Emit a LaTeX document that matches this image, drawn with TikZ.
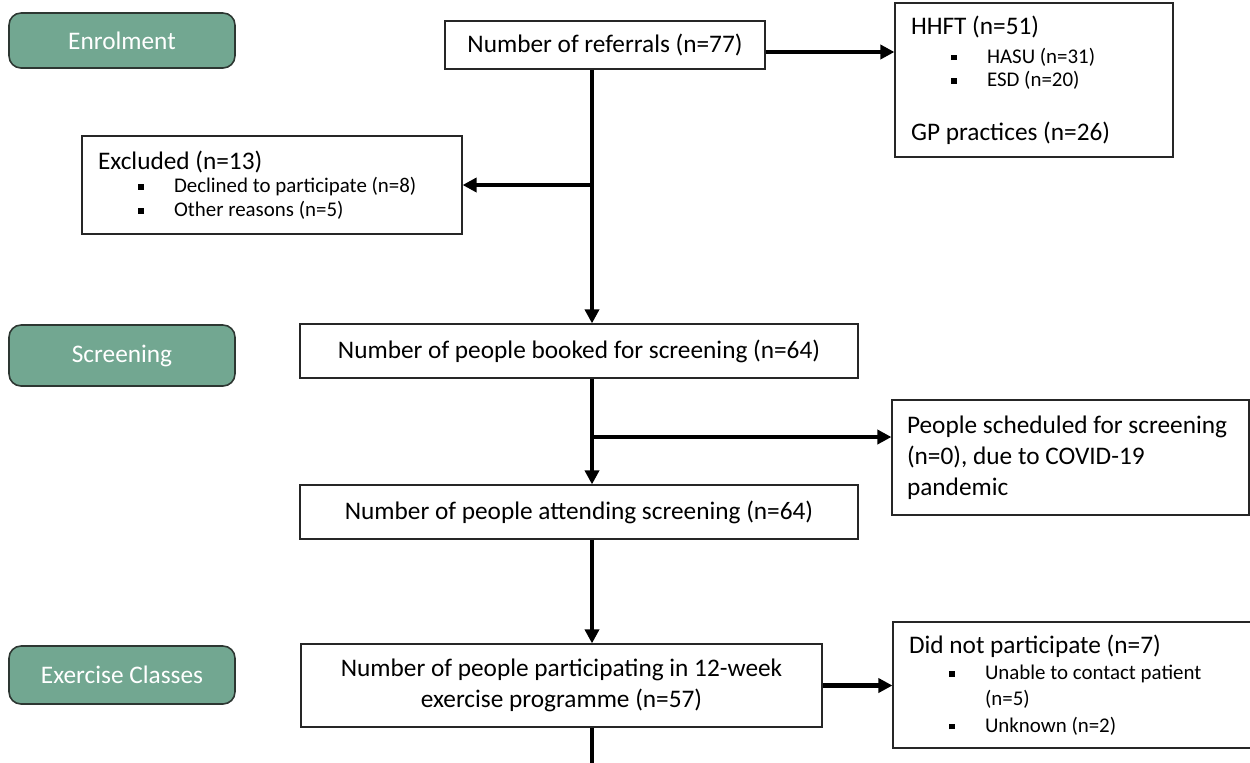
\documentclass[tikz,border=0pt]{standalone}
\usepackage{fontspec}
\setmainfont{Carlito}
\usetikzlibrary{arrows.meta,positioning,calc}
\definecolor{stagegreen}{RGB}{114,167,145}
\definecolor{stageedge}{RGB}{45,55,50}
\newcommand{\bigtxt}{\fontsize{14.4}{17.5}\selectfont}
\newcommand{\smalltxt}{\fontsize{11.9}{13.5}\selectfont}
\newcommand{\sqitem}[1]{\hspace*{0.8cm}\makebox[0.72cm][l]{\rule[0.3ex]{0.55ex}{0.55ex}}#1}

\begin{document}
\begin{tikzpicture}[x=0.02cm, y=-0.02cm,
  stage/.style={draw=stageedge, line width=0.9pt, fill=stagegreen, rounded corners=0.24cm,
    text=white, font=\bigtxt, minimum width=4.52cm},
  mainbox/.style={draw=black!85, line width=0.7pt, font=\bigtxt, align=center},
  sidebox/.style={draw=black!85, line width=0.7pt, font=\smalltxt, align=flush left, inner xsep=0.32cm,
    execute at begin node={\spaceskip=0pt\xspaceskip=0pt}},
  flow/.style={line width=2.3pt, -{Triangle[length=8pt,width=8pt]}},
  spineline/.style={line width=2.3pt}]
  \useasboundingbox (0,0) rectangle (1250,762);
  % stage labels down the left margin
  \node[stage, minimum height=1.10cm] (enrol)  at (122,40.5)  {Enrolment};
  \node[stage, minimum height=1.22cm] (screen) at (122,355.5) {Screening};
  \node[stage, minimum height=1.16cm] (exer)   at (122,675)   {Exercise Classes};
  % main column
  \node[mainbox, minimum width=6.40cm, minimum height=0.96cm] (refer) at (605,45) {Number of referrals (n=77)};
  \node[mainbox, minimum width=11.16cm, minimum height=1.08cm] (booked) at (579,351) {Number of people booked for screening (n=64)};
  \node[mainbox, minimum width=11.16cm, minimum height=1.08cm] (attend) at (579,512) {Number of people attending screening (n=64)};
  \node[mainbox, minimum width=10.42cm, minimum height=1.66cm] (partic) at (561.5,685.5)
    {Number of people participating in 12-week\\exercise programme (n=57)};
  % side boxes
  \node[sidebox, text width=4.92cm, minimum height=3.08cm] (hhft) at (1034,80)
    {{\bigtxt HHFT (n=51)}\\[3pt]
     \sqitem{HASU (n=31)}\\
     \sqitem{ESD (n=20)}\\[17pt]
     {\bigtxt GP practices (n=26)}};
  \node[sidebox, text width=6.96cm, minimum height=1.96cm] (excl) at (272,185)
    {{\bigtxt Excluded (n=13)}\\
     \sqitem{Declined to participate (n=8)}\\
     \sqitem{Other reasons (n=5)}};
  \node[sidebox, font=\bigtxt, inner xsep=0.3cm, text width=6.54cm, minimum height=2.30cm] (covid) at (1070.5,457.5)
    {People scheduled for screening\\(n=0), due to COVID-19\\pandemic};
  \node[sidebox, text width=6.54cm, minimum height=2.52cm] (didnot) at (1072.5,685)
    {{\bigtxt Did not participate (n=7)}\\[1.5pt]
     \sqitem{Unable to contact patient}\\[1.5pt]
     \hspace*{1.52cm}(n=5)\\[1.5pt]
     \sqitem{Unknown (n=2)}};
  % connectors along the spine
  \coordinate (spine) at (592,0);
  \coordinate (covidfork) at (592,437);
  \coordinate (tail) at (592,780);
  \draw[flow] ([yshift=-0.14cm]refer.east) -- ([yshift=-0.14cm]refer.east -| hhft.west);
  \draw[flow] (refer.south -| spine) -- (booked.north -| spine);
  \draw[flow] (excl.east -| spine) -- (excl.east);
  \draw[flow] (booked.south -| spine) -- (attend.north -| spine);
  \draw[flow] (covidfork) -- (covidfork -| covid.west);
  \draw[flow] (attend.south -| spine) -- (partic.north -| spine);
  \draw[flow] (partic.east) -- (partic.east -| didnot.west);
  \draw[spineline] (partic.south -| spine) -- (tail);
\end{tikzpicture}
\end{document}
